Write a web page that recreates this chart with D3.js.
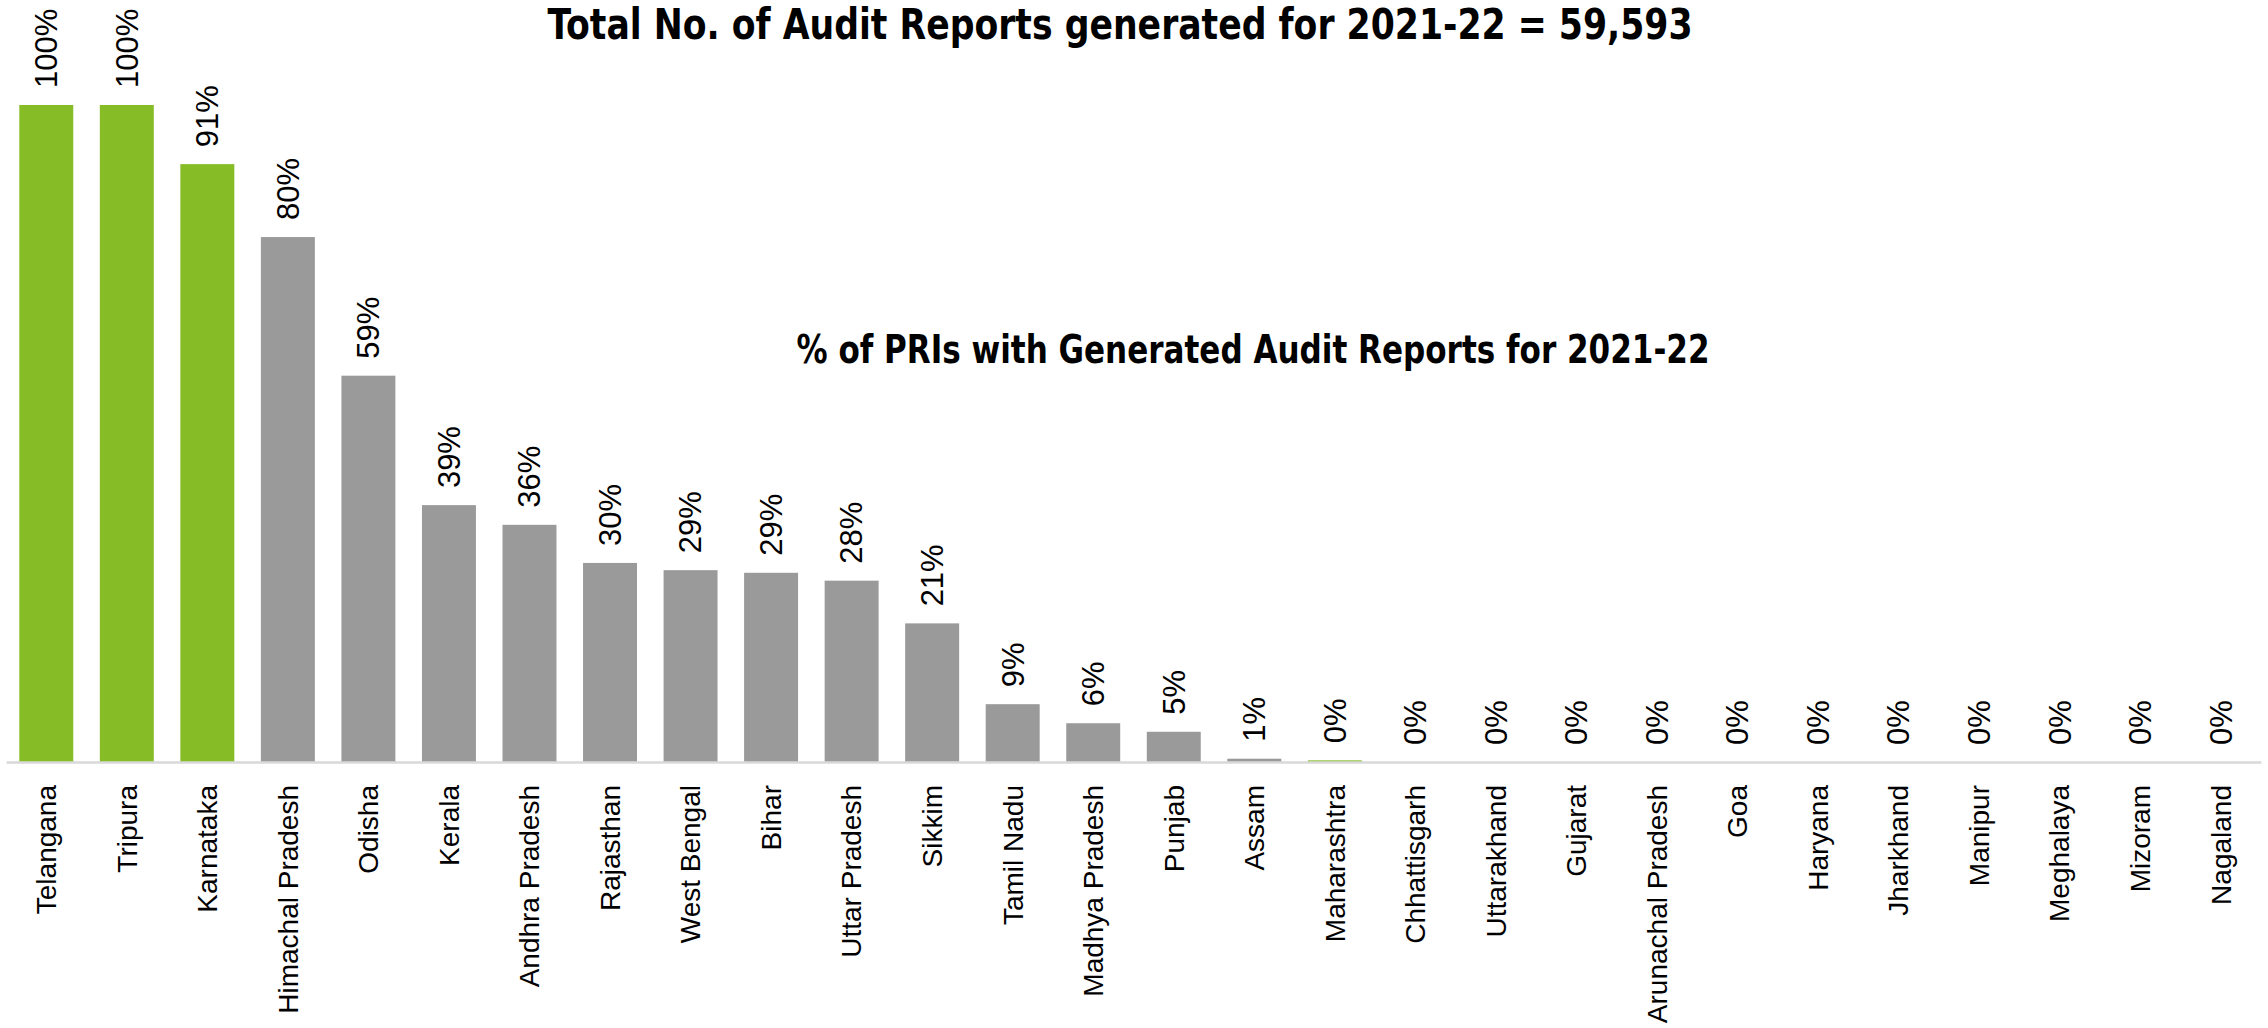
<!DOCTYPE html>
<html>
<head>
<meta charset="utf-8">
<script src="https://cdn.jsdelivr.net/npm/d3@7"></script>
<style>
  body { margin: 0; background: #fff; }
</style>
</head>
<body>
<div id="chart"></div>
<script>
let states = ["Telangana", "Tripura", "Karnataka", "Himachal Pradesh", "Odisha", "Kerala",
    "Andhra Pradesh", "Rajasthan", "West Bengal", "Bihar", "Uttar Pradesh", "Sikkim",
    "Tamil Nadu", "Madhya Pradesh", "Punjab", "Assam", "Maharashtra", "Chhattisgarh",
    "Uttarakhand", "Gujarat", "Arunachal Pradesh", "Goa", "Haryana", "Jharkhand",
    "Manipur", "Meghalaya", "Mizoram", "Nagaland"];
let values = [100, 100, 91, 79.9, 58.8, 39.1, 36.1, 30.3, 29.2, 28.8, 27.6, 21.1,
    8.8, 5.9, 4.6, 0.5, 0.25, 0, 0, 0, 0, 0, 0, 0, 0, 0, 0, 0];
let greenStates = ["Telangana", "Tripura", "Karnataka", "Maharashtra"];

let titleText = "Total No. of Audit Reports generated for 2021-22 = 59,593";
let subtitleText = "% of PRIs with Generated Audit Reports for 2021-22";

let svgWidth = 2268;
let svgHeight = 1028;

let data = states.map((s, i) => ({ state: s, value: values[i] }));

let svg = d3.select("#chart")
    .append("svg")
    .attr("width", svgWidth)
    .attr("height", svgHeight);

let xScale = d3.scaleBand()
    .domain(states)
    .range([6, 2261])
    .paddingInner(0.33)
    .paddingOuter(0.165);

let yScale = d3.scaleLinear()
    .domain([0, 100])
    .range([762, 105]);

// bars
svg.selectAll("rect.bar")
    .data(data)
    .enter()
    .append("rect")
    .attr("class", "bar")
    .attr("x", d => xScale(d.state))
    .attr("y", d => yScale(d.value))
    .attr("width", xScale.bandwidth())
    .attr("height", d => yScale(0) - yScale(d.value))
    .attr("fill", d => greenStates.includes(d.state) ? "#86bc25" : "#9a9a9a");

// x axis
let bottomAxis = d3.axisBottom(xScale).tickSize(0).tickPadding(0);
let axisG = svg.append("g")
    .attr("transform", `translate(0, ${yScale(0)})`)
    .call(bottomAxis);

axisG.select(".domain")
    .attr("stroke", "#d9d9d9")
    .attr("stroke-width", 2.5);

axisG.selectAll(".tick text")
    .attr("transform", "translate(0, 23) rotate(-90)")
    .attr("x", 0)
    .attr("y", 0)
    .attr("dy", "0.35em")
    .attr("text-anchor", "end")
    .attr("font-family", "'Liberation Sans', Arial, sans-serif")
    .attr("font-size", "28px")
    .attr("fill", "#000");

// value labels
svg.selectAll("text.valueLabel")
    .data(data)
    .enter()
    .append("text")
    .attr("class", "valueLabel")
    .attr("transform", d => `translate(${xScale(d.state) + xScale.bandwidth() / 2}, ${yScale(d.value) - 17}) rotate(-90)`)
    .attr("dy", "0.35em")
    .attr("text-anchor", "start")
    .attr("font-family", "'Liberation Sans', Arial, sans-serif")
    .attr("font-size", "31px")
    .attr("fill", "#000")
    .text(d => Math.round(d.value) + "%");

// titles
svg.append("text")
    .attr("x", 1120)
    .attr("y", 39)
    .attr("text-anchor", "middle")
    .attr("font-family", "'Liberation Sans Narrow', 'DejaVu Sans Condensed', sans-serif")
    .attr("font-weight", "bold")
    .attr("font-size", "43px")
    .attr("textLength", 1145)
    .attr("lengthAdjust", "spacingAndGlyphs")
    .text(titleText);

svg.append("text")
    .attr("x", 1253)
    .attr("y", 363)
    .attr("text-anchor", "middle")
    .attr("font-family", "'Liberation Sans Narrow', 'DejaVu Sans Condensed', sans-serif")
    .attr("font-weight", "bold")
    .attr("font-size", "39px")
    .attr("textLength", 913)
    .attr("lengthAdjust", "spacingAndGlyphs")
    .text(subtitleText);
</script>
</body>
</html>
